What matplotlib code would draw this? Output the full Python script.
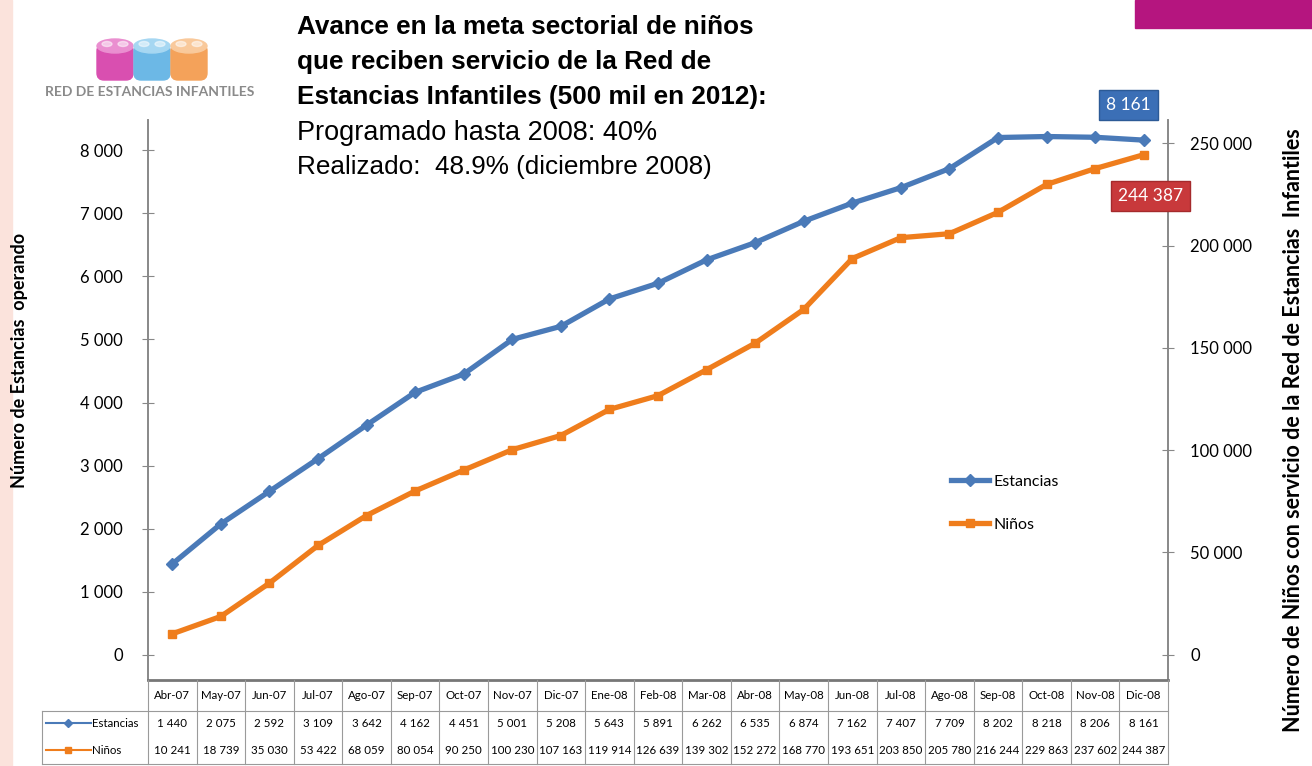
import matplotlib
matplotlib.use("Agg")
import matplotlib.pyplot as plt
from matplotlib.patches import FancyBboxPatch, Rectangle, Ellipse

meses = ["Abr-07", "May-07", "Jun-07", "Jul-07", "Ago-07", "Sep-07", "Oct-07",
         "Nov-07", "Dic-07", "Ene-08", "Feb-08", "Mar-08", "Abr-08", "May-08",
         "Jun-08", "Jul-08", "Ago-08", "Sep-08", "Oct-08", "Nov-08", "Dic-08"]
estancias = [1440, 2075, 2592, 3109, 3642, 4162, 4451, 5001, 5208, 5643, 5891,
             6262, 6535, 6874, 7162, 7407, 7709, 8202, 8218, 8206, 8161]
ninos = [10241, 18739, 35030, 53422, 68059, 80054, 90250, 100230, 107163,
         119914, 126639, 139302, 152272, 168770, 193651, 203850, 205780,
         216244, 229863, 237602, 244387]
left_ticks = [0, 1000, 2000, 3000, 4000, 5000, 6000, 7000, 8000]
right_ticks = [0, 50000, 100000, 150000, 200000, 250000]

BLUE = "#4a7ab8"
ORANGE = "#ef7d1c"
FONT = ["Lato", "DejaVu Sans"]


def miles(v):
    return f"{v:,}".replace(",", " ")


W, H = 1312, 766
fig = plt.figure(figsize=(W / 100, H / 100), dpi=100)
fig.patch.set_facecolor("white")

# overlay in pixel coordinates for decorations
deco = fig.add_axes([0, 0, 1, 1], zorder=-1)
deco.set_xlim(0, W)
deco.set_ylim(H, 0)
deco.axis("off")
deco.add_patch(Rectangle((0, 0), 12, H, color="#fbe3dc"))
deco.add_patch(Rectangle((1135, 0), W - 1135, 28, color="#b5157f"))
for cx, face, top in [(115, "#d94fb0", "#ea8fd0"), (152, "#6cb8e6", "#a6d7f2"),
                      (189, "#f4a25a", "#f9c99b")]:
    deco.add_patch(FancyBboxPatch((cx - 18, 44), 36, 36,
                                  boxstyle="round,pad=0,rounding_size=7",
                                  color=face))
    deco.add_patch(Ellipse((cx, 46), 36, 14, color=top))
    for dx in (-8, 8):
        deco.add_patch(Ellipse((cx + dx, 44), 10, 5, color="white", alpha=0.5))
deco.text(150, 92, "RED DE ESTANCIAS INFANTILES", ha="center", va="center",
          fontsize=10, fontweight="bold", color="#8a8a8a", family=FONT)

# main chart
x0, x1 = 148, 1168
y0, y1 = 120, 680
ax = fig.add_axes([x0 / W, 1 - y1 / H, (x1 - x0) / W, (y1 - y0) / H])
xs = list(range(len(meses)))
l1, = ax.plot(xs, estancias, color=BLUE, lw=3.8, marker="D", ms=6.5,
              label="Estancias", zorder=3)
ax.set_xlim(-0.5, len(meses) - 0.5)
ax.set_ylim(-400, 8480)
ax.set_xticks([])
ax.set_yticks(left_ticks)
ax.set_yticklabels([miles(v) for v in left_ticks], family=FONT, fontsize=12)
ax.tick_params(axis="y", direction="inout", length=8, color="#888888", pad=14)

ax2 = ax.twinx()
l2, = ax2.plot(xs, ninos, color=ORANGE, lw=3.8, marker="s", ms=6,
               label="Niños", zorder=3)
ax2.set_ylim(-400 * 30.82, 8480 * 30.82)
ax2.set_yticks(right_ticks)
ax2.set_yticklabels([miles(v) for v in right_ticks], family=FONT, fontsize=12)
ax2.tick_params(axis="y", direction="inout", length=8, color="#888888", pad=12)
ax2.set_xlim(-0.5, len(meses) - 0.5)

for a in (ax, ax2):
    a.set_facecolor("none")
    for s in ("top", "bottom"):
        a.spines[s].set_visible(False)
    a.spines["left"].set_color("#888888")
    a.spines["right"].set_color("#888888")
    a.spines["left"].set_linewidth(1.2)
    a.spines["right"].set_linewidth(1.2)

ax.set_ylabel("Número de Estancias  operando", family=FONT, fontsize=13,
              fontweight="bold")
ax.yaxis.set_label_coords((28 - x0) / (x1 - x0), (y1 - 360) / (y1 - y0))
ax2.set_ylabel("Número de Niños con servicio de la Red de Estancias  Infantiles",
               family=FONT, fontsize=15.5, fontweight="bold", rotation=90)
ax2.yaxis.set_label_coords((1283 - x0) / (x1 - x0), (y1 - 430) / (y1 - y0))

ax2.legend(handles=[l1, l2], loc="upper left", bbox_to_anchor=(0.773, 0.392),
           frameon=False, prop={"family": FONT, "size": 11.5},
           labelspacing=1.8, handlelength=2.4, handletextpad=0.3)

# value callouts
ax.annotate(miles(estancias[-1]), (xs[-1], estancias[-1]),
            xytext=(-11, 25), textcoords="offset points", ha="center",
            va="center", color="white", family=FONT, fontsize=12.5,
            bbox=dict(boxstyle="square,pad=0.4", fc="#3b6fb6", ec="#2c5a96"))
ax2.annotate(miles(ninos[-1]), (xs[-1], ninos[-1]),
             xytext=(5, -30), textcoords="offset points", ha="center",
             va="center", color="white", family=FONT, fontsize=12.5,
             bbox=dict(boxstyle="square,pad=0.4", fc="#c8393b", ec="#a52a2c"))

# title block
tx = 297
for i, line in enumerate(["Avance en la meta sectorial de niños",
                          "que reciben servicio de la Red de",
                          "Estancias Infantiles (500 mil en 2012):"]):
    fig.text(tx / W, 1 - (27 + 35 * i) / H, line, ha="left", va="center",
             fontsize=18.8, fontweight="bold", family=["Liberation Sans"])
fig.text(tx / W, 1 - 133 / H, "Programado hasta 2008: 40%", ha="left",
         va="center", fontsize=19.5, family=["Liberation Sans"])
fig.text(tx / W, 1 - 167 / H, "Realizado:  48.9% (diciembre 2008)", ha="left",
         va="center", fontsize=18.8, family=["Liberation Sans"])

# data table
tl, tr, tt, tb = 42, 1168, 680, 764
unit = (x1 - x0) / len(meses)
tab = fig.add_axes([tl / W, 1 - tb / H, (tr - tl) / W, (tb - tt) / H])
left_edge = -0.5 - (x0 - tl) / unit
tab.set_xlim(left_edge, len(meses) - 0.5)
tab.set_ylim(3, 0)
tab.axis("off")
edge = "#9a9a9a"
tab.plot([-0.5, len(meses) - 0.5], [0, 0], color="#777777", lw=2,
         clip_on=False)
tab.plot([left_edge, len(meses) - 0.5], [1.1, 1.1], color=edge, lw=0.8,
         clip_on=False)
tab.plot([left_edge, len(meses) - 0.5], [3, 3], color=edge, lw=0.8,
         clip_on=False)
tab.plot([left_edge, left_edge], [1.1, 3], color=edge, lw=0.8, clip_on=False)
for i in range(len(meses) + 1):
    tab.plot([i - 0.5, i - 0.5], [0, 3], color=edge, lw=0.8, clip_on=False)
for i, m in enumerate(meses):
    tab.text(i, 0.55, m, ha="center", va="center", fontsize=8.3, family=FONT)
    tab.text(i, 1.55, miles(estancias[i]), ha="center", va="center",
             fontsize=8.3, family=FONT)
    tab.text(i, 2.5, miles(ninos[i]), ha="center", va="center",
             fontsize=8.3, family=FONT)
seg = [left_edge + 0.08, left_edge + 1.0]
for row, color, mk, name in [(1.55, BLUE, "D", "Estancias"),
                             (2.5, ORANGE, "s", "Niños")]:
    tab.plot(seg, [row, row], color=color, lw=1.5, clip_on=False)
    tab.plot([sum(seg) / 2], [row], color=color, marker=mk, ms=4,
             clip_on=False)
    tab.text(seg[1] + 0.03, row, name, ha="left", va="center", fontsize=8.3,
             family=FONT)

fig.savefig("out.png", dpi=100)
